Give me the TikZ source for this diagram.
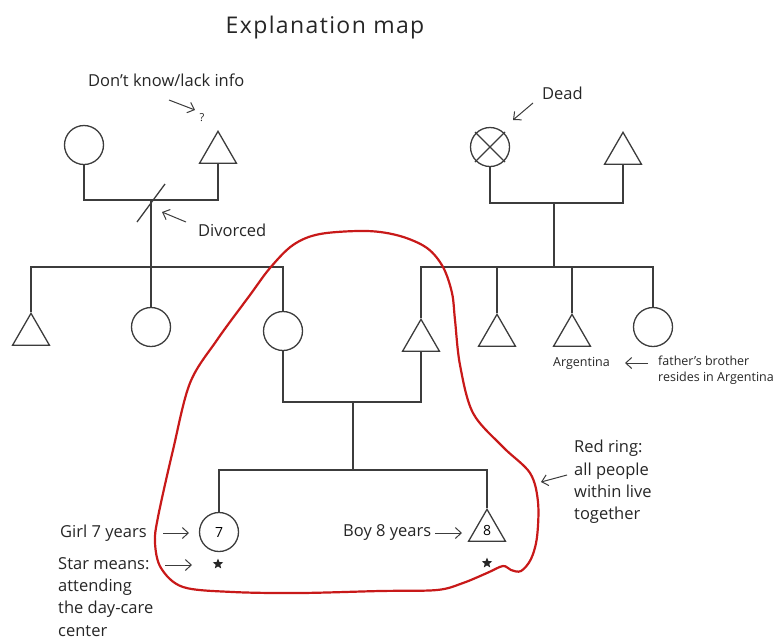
\documentclass[tikz,border=0pt]{standalone}
\usepackage{fontspec}
\setmainfont{Open Sans}
\newfontfamily\titlefont[LetterSpace=6]{Open Sans}
\usetikzlibrary{shapes.geometric,arrows.meta}

\definecolor{linegray}{RGB}{60,60,60}
\definecolor{ringred}{RGB}{200,25,25}

\tikzset{
  line/.style={draw=linegray, line width=1.3pt},
  female/.style={circle, draw=linegray, line width=1.3pt, minimum size=39pt, inner sep=0pt, font=\fontsize{14}{14}\selectfont},
  male/.style={regular polygon, regular polygon sides=3, draw=linegray, line width=1.3pt,
               minimum size=42.7pt, inner sep=0pt, anchor=corner 1, font=\fontsize{14}{14}\selectfont},
  note/.style={inner sep=0pt, text=black!85, font=\fontsize{16.5}{22.3}\selectfont},
  small/.style={inner sep=0pt, text=black!85, font=\fontsize{12.5}{15.5}\selectfont},
  arr/.style={draw=linegray, line width=1pt, -{Straight Barb[length=6pt,width=11pt]}},
  daycare/.style={star, star points=5, star point ratio=2.3, fill=black!85, draw=none,
                  minimum size=11pt, inner sep=0pt},
  ring/.style={draw=ringred, line width=2.2pt}
}

\begin{document}
\begin{tikzpicture}[x=1pt,y=-1pt]
\useasboundingbox (0,0) rectangle (776,641);

% title
\node[inner sep=0pt, text=black!85, font=\titlefont\fontsize{23}{23}\selectfont] (title) at (325,28) {Explanation map};

% grandparents, father's side (left)
\node[female] (gmL) at (84,145) {};
\node[male] (gfL) at (218,130) {};
\coordinate (jL1) at (151,200);
\draw[line] (gmL.south) |- (jL1) -| (gfL.side 2);
\coordinate (divA) at (137,222);
\coordinate (divB) at (165,184);
\draw[line] (divA) -- (divB);

% grandparents (right), one deceased
\node[female] (gmR) at (490,147) {};
\draw[line] ([shift={(-15,-15)}]gmR.center) -- ([shift={(15,15)}]gmR.center);
\draw[line] ([shift={(-15,15)}]gmR.center) -- ([shift={(15,-15)}]gmR.center);
\node[male] (gfR) at (623,131) {};
\coordinate (jR1) at (554,203);
\draw[line] (gmR.south) |- (jR1) -| (gfR.side 2);

% siblings, left family
\coordinate (jL2) at (151,267);
\node[male] (s1) at (31,312) {};
\node[female] (s2) at (151,327) {};
\node[female] (mother) at (283,331) {};
\draw[line] (jL1) -- (jL2);
\draw[line] (s1.corner 1) |- (jL2) -| (mother.north);
\draw[line] (jL2) -- (s2.north);

% siblings, right family
\coordinate (jR2) at (554,267);
\node[male] (father) at (421,318) {};
\node[male] (s4) at (497,313) {};
\node[male] (s5) at (572,313) {};
\node[female] (s6) at (653,327) {};
\draw[line] (jR1) -- (jR2);
\draw[line] (father.corner 1) |- (jR2) -| (s6.north);
\draw[line] (s4.corner 1) -- (s4.corner 1 |- jR2);
\draw[line] (s5.corner 1) -- (s5.corner 1 |- jR2);

% parents and children
\coordinate (jP) at (353,402);
\coordinate (jC) at (353,470);
\draw[line] (mother.south) |- (jP) -| (father.side 2);
\draw[line] (jP) -- (jC);
\node[female] (girl) at (219,532) {7};
\node[male] (boy) at (487,508) {8};
\draw[line] (girl.north) |- (jC) -| (boy.corner 1);

% day-care stars
\node[daycare] (starG) at (218,564) {};
\node[daycare] (starB) at (487,563) {};

% household ring
\draw[ring] plot[smooth cycle, tension=0.55] coordinates {
  (158,517) (173,450) (190,383) (217,340) (250,295) (270,268) (293,245)
  (320,234) (367,231) (400,236) (427,248) (443,267) (452,293) (455,320)
  (460,365) (473,413) (503,447) (530,473) (538,502) (537,537) (531,559)
  (521,571) (511,570) (503,566) (487,573) (463,583) (437,590) (380,591)
  (300,593) (233,592) (183,587) (161,568) (155,543)};

% labels and pointers
\node[note, anchor=west] (lblUnknown) at (88,80) {Don’t know/lack info};
\node[inner sep=0pt, text=black!85, font=\fontsize{11}{11}\selectfont] (qmark) at (202,118) {?};
\coordinate (aU1) at (169,100); \coordinate (aU2) at (195,110);
\draw[arr] (aU1) -- (aU2);

\node[note, anchor=west] (lblDiv) at (198,230) {Divorced};
\coordinate (aD1) at (186,222); \coordinate (aD2) at (162,212);
\draw[arr] (aD1) -- (aD2);

\node[note, anchor=west] (lblDead) at (542,93) {Dead};
\coordinate (aX1) at (533,103); \coordinate (aX2) at (513,120);
\draw[arr] (aX1) -- (aX2);

\node[small, anchor=west] (lblArg) at (553,363) {Argentina};
\node[small, anchor=north west, align=left] (lblBro) at (658,356) {father’s brother\\resides in Argentina};
\coordinate (aA1) at (648,363); \coordinate (aA2) at (625,363);
\draw[arr] (aA1) -- (aA2);

\node[note, anchor=west] (lblGirl) at (60,533) {Girl 7 years};
\coordinate (aG1) at (163,533); \coordinate (aG2) at (189,533);
\draw[arr] (aG1) -- (aG2);

\node[note, anchor=north west, align=left] (lblStar) at (58,557) {Star means:\\attending\\the day-care\\center};
\coordinate (aS1) at (165,565); \coordinate (aS2) at (192,565);
\draw[arr] (aS1) -- (aS2);

\node[note, anchor=west] (lblBoy) at (343,532) {Boy 8 years};
\coordinate (aB1) at (435,533); \coordinate (aB2) at (462,533);
\draw[arr] (aB1) -- (aB2);

\node[note, anchor=north west, align=left] (lblRing) at (574,440) {Red ring:\\all people\\within live\\together};
\coordinate (aR1) at (567,475); \coordinate (aR2) at (541,482);
\draw[arr] (aR1) -- (aR2);

\end{tikzpicture}
\end{document}
